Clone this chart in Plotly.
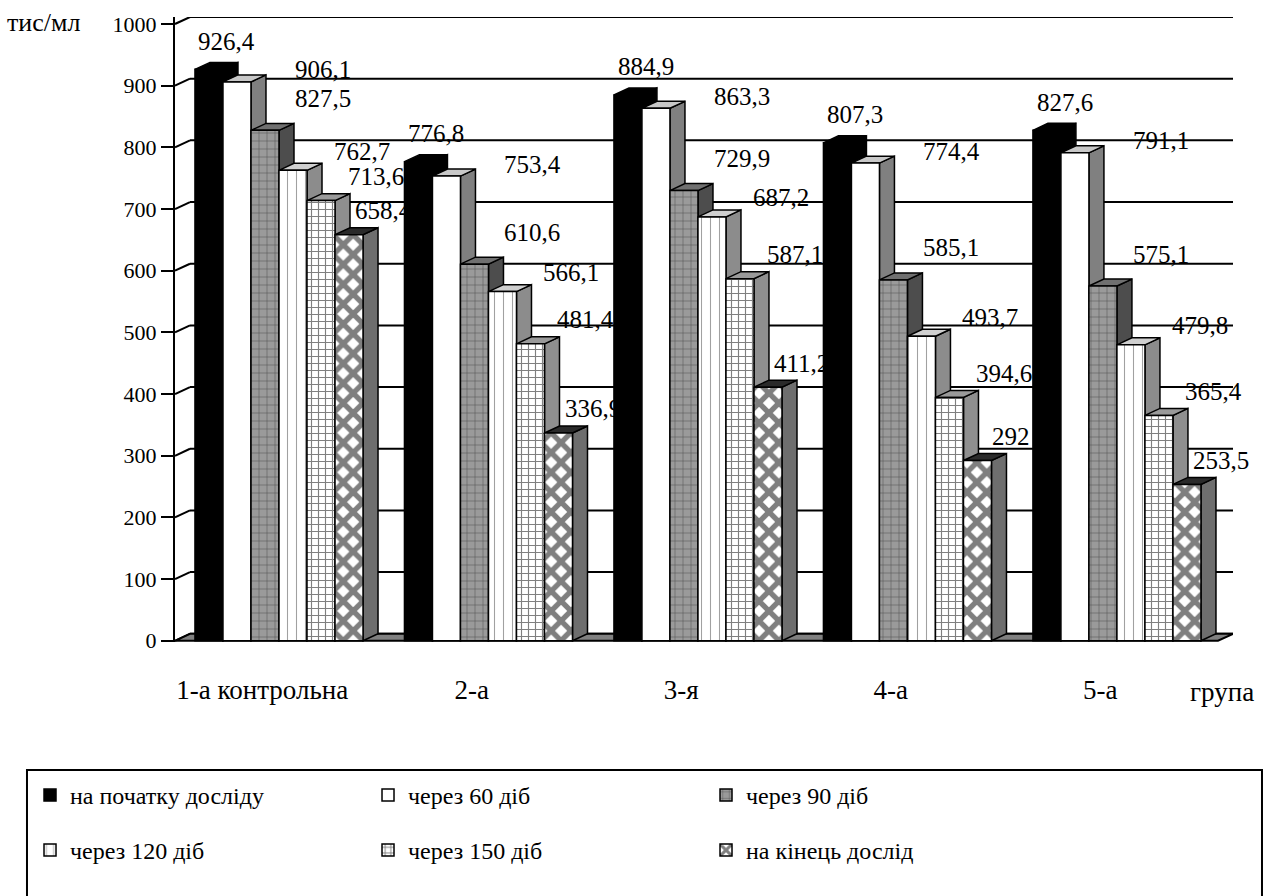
import plotly.graph_objects as go

# ---------------- data ----------------
groups = ["1-а контрольна", "2-а", "3-я", "4-а", "5-а"]
series_names = ["на початку досліду", "через 60 діб", "через 90 діб",
                "через 120 діб", "через 150 діб", "на кінець дослід"]
v_start = [926.4, 776.8, 884.9, 807.3, 827.6]
v_60 = [906.1, 753.4, 863.3, 774.4, 791.1]
v_90 = [827.5, 610.6, 729.9, 585.1, 575.1]
v_120 = [762.7, 566.1, 687.2, 493.7, 479.8]
v_150 = [713.6, 481.4, 587.1, 394.6, 365.4]
v_end = [658.4, 336.9, 411.2, 292.2, 253.5]
y_ticks = [0, 100, 200, 300, 400, 500, 600, 700, 800, 900, 1000]
series_values = [v_start, v_60, v_90, v_120, v_150, v_end]

# ---------------- style / geometry ----------------
FONT = "Liberation Serif, Times New Roman, serif"
W = 0.1337      # bar front width (category units)
D = 0.0716      # 3D depth in x (category units)
DY = 11.3       # 3D depth in y (value units)
XMIN, XMAX = -0.4964, 4.554
YMIN, YMAX = -2, 1000 + DY

front_colors = ["black", "white", "#9a9a9a", "white", "white", "white"]
patterns = [
    dict(shape=""),
    dict(shape=""),
    dict(shape="+", fgcolor="black", bgcolor="#9a9a9a", size=8, solidity=0.12),
    dict(shape="|", fgcolor="#444444", bgcolor="white", size=9, solidity=0.12),
    dict(shape="+", fgcolor="black", bgcolor="white", size=7, solidity=0.3),
    dict(shape="x", fgcolor="black", bgcolor="white", size=14, solidity=0.62),
]
side_colors = ["black", "#808080", "#4d4d4d", "#8c8c8c", "#8f8f8f", "#6e6e6e"]
top_colors = ["black", "#c8c8c8", "#707070", "#cfcfcf", "#9a9a9a", "#2a2a2a"]
label_shift = [(18, 28), (86, 12), (58, 32), (69, 19), (55, 24), (34, 24)]


def fmt(v):
    return f"{v:.1f}".replace(".", ",")


fig = go.Figure()
shapes = []

# back-wall gridlines and connectors to the front axis
for t in y_ticks:
    shapes.append(dict(type="line", xref="x", yref="y", layer="below",
                       x0=XMIN + D, x1=XMAX, y0=t + DY, y1=t + DY,
                       line=dict(color="black", width=2)))
    shapes.append(dict(type="line", xref="x", yref="y", layer="below",
                       x0=XMIN, x1=XMIN + D, y0=t, y1=t + DY,
                       line=dict(color="black", width=2)))

# floor
xf_end = XMAX - D
shapes.append(dict(type="path", xref="x", yref="y", layer="below",
                   path=f"M{XMIN},0 L{xf_end},0 L{XMAX},{DY} L{XMIN + D},{DY} Z",
                   fillcolor="#808080", line=dict(color="black", width=2)))

annotations = []
for j, (name, vals) in enumerate(zip(series_names, series_values)):
    xs = [g + (j - 2.5) * W for g in range(len(groups))]
    fig.add_trace(go.Bar(
        x=xs, y=vals, width=W, name=name,
        marker=dict(color=front_colors[j], pattern=patterns[j],
                    line=dict(color="black", width=1.5)),
        legend="legend" if j < 3 else "legend2",
        hoverinfo="skip",
    ))
    for x, v in zip(xs, vals):
        xl, xr = x - W / 2, x + W / 2
        # side face
        shapes.append(dict(type="path", xref="x", yref="y", layer="below",
                           path=f"M{xr},0 L{xr + D},{DY} L{xr + D},{v + DY} L{xr},{v} Z",
                           fillcolor=side_colors[j], line=dict(color="black", width=1.5)))
        # top face
        shapes.append(dict(type="path", xref="x", yref="y", layer="below",
                           path=f"M{xl},{v} L{xl + D},{v + DY} L{xr + D},{v + DY} L{xr},{v} Z",
                           fillcolor=top_colors[j], line=dict(color="black", width=1.5)))
        sx, sy = label_shift[j]
        annotations.append(dict(x=x, y=v, xref="x", yref="y", text=fmt(v) if v != 292.2 else "292",
                                showarrow=False, xshift=sx, yshift=sy,
                                font=dict(family=FONT, size=25, color="black")))

# legend outer box
shapes.append(dict(type="rect", xref="paper", yref="paper", layer="above",
                   x0=-0.1399, x1=1.0274, y0=-0.2048, y1=-0.43,
                   line=dict(color="black", width=2), fillcolor="rgba(0,0,0,0)"))

annotations.append(dict(xref="paper", yref="paper", x=-0.1607, y=0.992,
                        xanchor="left", yanchor="middle", text="тис/мл", showarrow=False,
                        font=dict(family=FONT, size=26, color="black")))
annotations.append(dict(xref="paper", yref="paper", x=0.9896, y=-0.08,
                        xanchor="center", yanchor="middle", text="група", showarrow=False,
                        font=dict(family=FONT, size=27, color="black")))

leg_common = dict(orientation="h", xref="container", yref="container",
                  xanchor="left", yanchor="top", entrywidth=293, entrywidthmode="pixels",
                  font=dict(family=FONT, size=24, color="black"),
                  bgcolor="rgba(0,0,0,0)", borderwidth=0, traceorder="normal")

fig.update_layout(
    width=1277, height=896,
    margin=dict(l=175, r=44, t=15, b=254),
    plot_bgcolor="white", paper_bgcolor="white",
    barmode="overlay",
    shapes=shapes, annotations=annotations,
    legend=dict(x=0.0235, y=0.1373, **leg_common),
    legend2=dict(x=0.0235, y=0.0759, **leg_common),
    xaxis=dict(range=[XMIN, XMAX], showgrid=False, zeroline=False, showline=False,
               tickvals=[i - 0.08 for i in range(len(groups))], ticktext=groups,
               ticks="", ticklabelstandoff=29,
               tickfont=dict(family=FONT, size=27, color="black")),
    yaxis=dict(range=[YMIN, YMAX], showgrid=False, zeroline=False,
               showline=True, linecolor="black", linewidth=2,
               tickvals=y_ticks, ticks="outside", ticklen=12, tickwidth=2, tickcolor="black",
               tickfont=dict(family=FONT, size=22, color="black")),
    font=dict(family=FONT, color="black"),
)

fig.write_html("out.html")
